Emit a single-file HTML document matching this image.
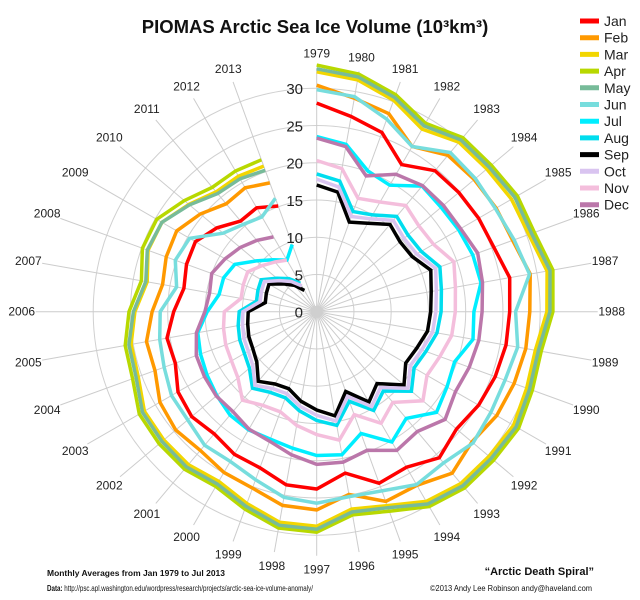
<!DOCTYPE html>
<html><head><meta charset="utf-8"><style>
html,body{margin:0;padding:0;background:#fff;}
svg{display:block;font-family:"Liberation Sans",Arial,sans-serif;}
</style></head><body>
<svg id="chart" width="640" height="600" viewBox="0 0 640 600" xmlns="http://www.w3.org/2000/svg">
<rect width="640" height="600" fill="#fff"/>
<text x="315" y="33" text-anchor="middle" font-size="18.5" font-weight="bold" fill="#111">PIOMAS Arctic Sea Ice Volume (10³km³)</text>
<g id="grid"></g>
<g id="series"></g>
<g id="legend"></g>
<text x="47" y="576" font-size="8.5" font-weight="bold" fill="#111" textLength="178" lengthAdjust="spacingAndGlyphs">Monthly Averages from Jan 1979 to Jul 2013</text>
<text x="47" y="591" font-size="8" fill="#111" textLength="266" lengthAdjust="spacingAndGlyphs"><tspan font-weight="bold">Data:</tspan> http://psc.apl.washington.edu/wordpress/research/projects/arctic-sea-ice-volume-anomaly/</text>
<text x="594" y="575" text-anchor="end" font-size="11" font-weight="bold" fill="#111">“Arctic Death Spiral”</text>
<text x="430" y="591" font-size="8" fill="#111" textLength="162" lengthAdjust="spacingAndGlyphs">©2013 Andy Lee Robinson andy@haveland.com</text>
</svg>
<script>
const years = [1979,1980,1981,1982,1983,1984,1985,1986,1987,1988,1989,1990,1991,1992,1993,1994,1995,1996,1997,1998,1999,2000,2001,2002,2003,2004,2005,2006,2007,2008,2009,2010,2011,2012,2013];
const radialTicks = [0,5,10,15,20,25,30];
const monthNames = ["Jan","Feb","Mar","Apr","May","Jun","Jul","Aug","Sep","Oct","Nov","Dec"];
const monthColors = ["#ff0000","#ff9900","#f2d600","#b8d800","#77bb99","#77dddd","#00eeff","#00ddee","#000000","#d9c4f0","#f4bedc","#bb77aa"];
const jan = [28.0,26.6,25.6,22.8,24.7,24.9,25.1,25.3,26.3,25.9,25.8,25.5,25.1,24.5,25.6,24.1,24.5,22.0,23.8,23.6,22.3,22.1,21.4,21.9,21.5,20.2,20.4,19.2,18.1,18.6,18.8,17.5,15.9,16.1,15.1];
const feb = [30.4,29.1,28.3,25.6,27.4,27.6,27.8,28.0,29.1,28.6,28.5,28.2,27.9,27.2,28.3,26.9,27.1,24.9,26.6,26.4,25.2,24.9,24.3,24.7,24.3,23.1,23.2,22.1,21.0,21.5,21.7,20.4,18.9,19.2,18.4];
const mar = [32.2,31.6,30.2,28.3,29.7,29.8,30.2,30.3,31.4,30.9,29.8,30.0,30.5,30.2,30.1,29.4,27.7,26.9,28.8,28.7,27.4,26.3,26.8,26.8,26.7,25.5,25.3,24.4,23.1,24.1,24.0,22.4,21.0,21.0,20.8];
const apr = [33.1,32.4,31.0,29.2,30.5,30.6,31.1,31.1,32.2,31.7,30.6,30.8,31.3,31.0,30.9,30.2,28.5,27.7,29.6,29.5,28.2,27.1,27.6,27.6,27.5,26.3,26.1,25.2,23.9,24.9,24.8,23.2,21.8,21.8,21.7];
const may = [32.6,32.0,30.6,28.8,30.1,30.2,30.7,30.7,31.8,31.3,30.2,30.4,30.9,30.6,30.5,29.8,28.0,27.3,29.2,29.1,27.8,26.7,27.2,27.1,27.0,25.8,25.6,24.6,23.3,24.2,24.0,22.3,20.7,20.6,20.2];
const jun = [29.8,29.3,27.5,25.6,27.9,27.8,27.7,28.2,29.0,26.7,27.4,26.9,27.0,27.4,26.5,26.8,25.6,25.2,25.7,25.3,24.0,23.2,23.4,22.6,22.5,21.8,21.4,21.0,19.1,20.2,19.7,16.4,15.3,14.7,16.2];
const jul = [23.5,22.8,20.1,19.6,22.0,21.8,22.0,22.3,22.4,21.1,21.3,19.7,20.2,21.0,18.7,20.2,17.4,19.5,19.3,18.6,18.2,18.3,18.1,17.5,17.0,16.6,16.2,14.7,13.3,13.3,12.7,10.6,9.1,8.0,9.6];
const aug = [18.5,17.8,14.3,15.0,16.7,16.0,16.2,17.6,17.0,16.7,16.4,15.6,15.1,16.6,13.9,15.3,12.8,15.5,14.6,13.5,12.3,12.5,13.4,11.8,11.2,11.0,10.7,10.4,8.2,8.4,8.6,7.0,5.8,4.4];
const sep = [17.0,16.3,12.8,13.7,15.3,14.6,14.8,16.3,15.6,15.3,15.1,14.3,13.8,15.3,12.6,14.0,11.4,14.2,13.2,12.2,11.0,11.2,12.2,10.5,9.9,9.7,9.4,9.2,7.0,7.2,7.4,5.8,4.6,3.3];
const oct = [17.8,17.0,13.6,14.4,16.0,15.3,15.5,17.0,16.3,16.0,15.8,15.0,14.5,16.0,13.3,14.7,12.1,14.9,13.9,12.9,11.7,11.9,12.9,11.2,10.6,10.4,10.1,9.9,7.7,7.9,8.1,6.5,5.3,4.0];
const nov = [20.3,19.5,16.2,17.0,18.6,17.9,18.1,19.6,18.9,18.6,18.4,17.6,17.1,18.6,15.9,17.3,14.7,17.5,16.5,15.5,14.3,14.5,15.5,13.8,13.2,13.0,12.7,12.4,10.3,10.5,10.7,9.6,8.7,8.0];
const dec = [23.3,22.5,19.4,21.3,22.1,22.2,22.3,23.0,22.6,22.2,22.1,21.8,21.5,22.5,21.0,21.5,19.8,20.5,20.5,19.5,18.5,18.2,17.5,17.6,17.4,17.2,16.4,15.0,14.6,15.0,14.2,13.4,12.5,11.6];

const NS = "http://www.w3.org/2000/svg";
const CX = 316.7, CY = 311.7, PX_PER_UNIT = 7.45, SLOTS = 36;
function rScale(v){ return v * PX_PER_UNIT; }
function angleOf(i){ return i * 2 * Math.PI / SLOTS; }
function pt(i, v){ const a = angleOf(i), r = rScale(v); return [CX + r*Math.sin(a), CY - r*Math.cos(a)]; }
function labelR(a){ const s = Math.sin(a); return 258 + 37*s*s*s*s; }

const grid = document.getElementById('grid');
radialTicks.forEach(t => {
  if (t === 0) return;
  const c = document.createElementNS(NS,'circle');
  c.setAttribute('cx',CX); c.setAttribute('cy',CY); c.setAttribute('r',rScale(t));
  c.setAttribute('fill','none'); c.setAttribute('stroke','#d0d0d0'); c.setAttribute('stroke-width','1');
  
  
  grid.appendChild(c);
});
years.forEach((y,i) => {
  const a = angleOf(i), R = labelR(a) - 14;
  const l = document.createElementNS(NS,'line');
  l.setAttribute('x1',CX); l.setAttribute('y1',CY);
  l.setAttribute('x2',CX + R*Math.sin(a)); l.setAttribute('y2',CY - R*Math.cos(a));
  l.setAttribute('stroke','#cccccc'); l.setAttribute('stroke-width','1');
  
  
  grid.appendChild(l);
  const LR = labelR(a);
  const t = document.createElementNS(NS,'text');
  t.setAttribute('x',CX + LR*Math.sin(a)); t.setAttribute('y',CY - LR*Math.cos(a) + 4);
  t.setAttribute('text-anchor','middle'); t.setAttribute('font-size','12'); t.setAttribute('fill','#222');
  t.textContent = y;
  
  
  grid.appendChild(t);
});
const hub = document.createElementNS(NS,'circle');
hub.setAttribute('cx',CX); hub.setAttribute('cy',CY); hub.setAttribute('r','6'); hub.setAttribute('fill','#cfcfcf');


grid.appendChild(hub);
radialTicks.forEach(t => {
  const tx = document.createElementNS(NS,'text');
  tx.setAttribute('x',303); tx.setAttribute('y',CY - rScale(t) + 6);
  tx.setAttribute('text-anchor','end'); tx.setAttribute('font-size','15'); tx.setAttribute('fill','#222');
  tx.textContent = t;
  
  
  grid.appendChild(tx);
});

const seriesData = [jan,feb,mar,apr,may,jun,jul,aug,sep,oct,nov,dec];
const series = document.getElementById('series');
seriesData.forEach((vals,m) => {
  const p = document.createElementNS(NS,'polyline');
  p.setAttribute('points', vals.map((v,i) => pt(i,v).map(n=>n.toFixed(1)).join(',')).join(' '));
  p.setAttribute('fill','none'); p.setAttribute('stroke',monthColors[m]);
  p.setAttribute('stroke-width','3.5'); p.setAttribute('stroke-linejoin','miter');
  
  
  series.appendChild(p);
});

const legend = document.getElementById('legend');
monthNames.forEach((n,m) => {
  const y = 21 + m*16.7;
  const l = document.createElementNS(NS,'line');
  l.setAttribute('x1',580); l.setAttribute('x2',599); l.setAttribute('y1',y); l.setAttribute('y2',y);
  l.setAttribute('stroke',monthColors[m]); l.setAttribute('stroke-width','5');
  
  
  legend.appendChild(l);
  const t = document.createElementNS(NS,'text');
  t.setAttribute('x',604); t.setAttribute('y',y+5); t.setAttribute('font-size','14'); t.setAttribute('fill','#222');
  t.textContent = n;
  
  
  legend.appendChild(t);
});
</script>
</body></html>
